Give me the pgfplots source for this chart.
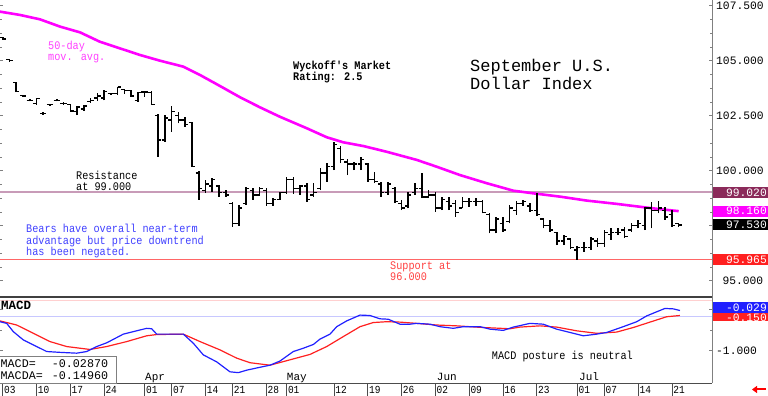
\documentclass[border=0pt]{standalone}
\usepackage{pgfplots}
\pgfplotsset{compat=1.18}
\usepackage{pgfplotstable}
\usepackage{fontspec}
\setmainfont{Liberation Mono}
\newfontfamily\mono{Liberation Mono}
\newfontfamily\monon[FakeStretch=0.88]{Liberation Mono}
\usetikzlibrary{arrows.meta}
\definecolor{macol}{HTML}{FF00FF}
\definecolor{matxt}{HTML}{FF40FF}
\definecolor{rescol}{HTML}{C89BB8}
\definecolor{resbox}{HTML}{8B2A5A}
\definecolor{supbox}{HTML}{FF2020}
\definecolor{mblue}{HTML}{2020FF}
\definecolor{mred}{HTML}{FF2020}
\definecolor{txtblue}{HTML}{4040FF}
\definecolor{suptxt}{HTML}{FF4040}
\definecolor{lblue}{HTML}{C8C8FF}
\definecolor{lpink}{HTML}{FFD0D0}
\newcommand\lines[1]{\begin{tabular}[t]{@{}l@{}}#1\end{tabular}}
\pgfdeclareplotmark{otick}{\pgfpathmoveto{\pgfqpoint{-3.2pt}{0pt}}\pgfpathlineto{\pgfqpoint{0pt}{0pt}}\pgfusepathqstroke}
\pgfdeclareplotmark{ctick}{\pgfpathmoveto{\pgfqpoint{0pt}{0pt}}\pgfpathlineto{\pgfqpoint{3.2pt}{0pt}}\pgfusepathqstroke}
\pgfplotstableread{
i O H L C
0 106.05 106.10 105.95 105.99
1 105.05 105.10 104.95 105.00
2 104.00 104.03 103.57 103.60
3 103.42 103.45 103.35 103.40
4 103.20 103.25 103.15 103.20
5 103.05 103.30 103.00 103.28
6 102.60 102.65 102.55 102.60
7 103.00 103.05 102.95 103.00
8 103.20 103.25 103.15 103.20
9 103.06 103.10 103.00 103.06
10 103.00 103.03 102.70 102.72
11 102.70 102.94 102.53 102.90
12 102.80 102.98 102.73 102.95
13 103.15 103.29 103.09 103.20
14 103.30 103.53 103.18 103.40
15 103.30 103.67 103.20 103.60
16 103.50 103.55 103.45 103.50
17 103.50 103.82 103.44 103.80
18 103.70 103.71 103.49 103.65
19 103.65 103.67 103.36 103.40
20 103.20 103.59 103.14 103.55
21 103.58 103.60 103.35 103.58
22 103.55 103.60 102.99 103.00
23 102.50 102.58 100.64 101.40
24 101.40 102.53 101.32 102.40
25 102.30 102.94 101.77 102.70
26 102.50 102.68 102.15 102.30
27 102.30 102.45 102.00 102.10
28 102.20 102.23 100.18 100.20
29 99.90 100.00 98.67 99.20
30 99.10 99.58 98.99 99.40
31 99.30 99.67 99.05 99.60
32 99.30 99.35 98.82 99.00
33 99.00 99.12 98.82 98.90
34 98.50 98.59 97.45 97.60
35 97.60 98.44 97.49 98.30
36 98.50 99.27 98.44 99.20
37 99.10 99.20 98.67 98.90
38 98.90 99.27 98.85 99.20
39 99.10 99.20 98.40 98.50
40 98.50 98.76 98.40 98.70
41 98.70 99.05 98.67 99.00
42 99.00 99.73 98.94 99.60
43 99.60 99.70 98.94 99.20
44 99.20 99.35 98.90 99.30
45 99.30 99.45 98.59 98.70
46 98.90 99.44 98.82 99.00
47 99.20 100.10 99.12 99.90
48 99.90 100.34 99.50 100.20
49 100.20 101.32 100.03 101.20
50 101.00 101.10 100.34 100.50
51 100.40 100.52 99.80 100.30
52 100.30 100.41 100.03 100.30
53 100.30 100.64 100.03 100.50
54 100.30 100.34 99.50 99.60
55 99.60 99.95 99.43 99.50
56 99.40 99.50 98.82 99.00
57 99.00 99.50 98.90 99.40
58 99.20 99.27 98.52 98.60
59 98.50 98.67 98.21 98.30
60 98.40 99.05 98.29 98.90
61 99.00 99.45 98.90 99.20
62 99.20 99.88 98.75 98.80
63 98.80 99.12 98.75 98.90
64 98.90 99.05 98.14 98.30
65 98.30 98.82 98.21 98.70
66 98.60 98.82 98.21 98.40
67 98.50 98.67 97.91 98.10
68 98.30 98.82 98.29 98.60
69 98.60 98.76 98.36 98.60
70 98.60 98.75 98.40 98.60
71 98.60 98.67 98.06 98.10
72 98.00 98.06 97.15 97.30
73 97.30 97.91 97.15 97.80
74 97.60 97.91 97.23 97.30
75 97.70 98.44 97.60 98.30
76 98.20 98.64 97.99 98.50
77 98.50 98.67 98.40 98.60
78 98.40 98.52 98.14 98.20
79 98.20 99.00 97.94 98.00
80 97.80 97.84 97.38 97.50
81 97.50 97.76 97.23 97.30
82 97.20 97.23 96.62 96.80
83 96.80 97.08 96.62 97.00
84 96.90 96.93 96.43 96.50
85 96.40 96.58 95.94 96.50
86 96.50 96.77 96.32 96.50
87 96.50 97.00 96.40 96.90
88 96.80 96.93 96.55 96.70
89 96.70 97.30 96.55 97.20
90 97.10 97.38 96.85 97.20
91 97.20 97.38 97.08 97.20
92 97.30 97.45 96.93 97.00
93 97.30 97.60 97.23 97.50
94 97.50 97.76 97.38 97.60
95 97.50 98.36 97.30 98.30
96 98.30 98.59 97.38 98.20
97 98.20 98.64 98.06 98.30
98 98.20 98.34 97.76 97.90
99 98.00 98.21 97.45 97.50
100 97.60 97.64 97.45 97.53
}\bars
\begin{document}
\begin{tikzpicture}
% ---------------- main price panel ----------------
\begin{axis}[at={(0pt,99.3pt)}, anchor=south west, width=712pt, height=296.7pt, scale only axis,
  xmin=-0.4, xmax=104.93, ymin=94.27, ymax=107.76, xtick=\empty,
  ytick={95,97.5,100,102.5,105,107.5}, yticklabels={95.000,,100.000,102.500,105.000,107.500},
  minor y tick num=3, ytick pos=both, yticklabel pos=right,
  axis line style={draw=none}, tick style={draw=gray, line width=0.6pt},
  major tick length=3pt, minor tick length=2pt,
  yticklabel style={font=\fontsize{11.3}{12}\selectfont, anchor=west, text width=47pt, align=right, inner sep=0pt, xshift=4pt},
  clip=false]
\addplot[red!60!white, line width=1.3pt, mark=none] coordinates {(-0.4,95.965) (104.93,95.965)};
\addplot[draw=rescol, line width=1.5pt, mark=none] coordinates {(-0.4,99.02) (104.93,99.02)};
\addplot[draw=macol, line width=2.6pt, line join=round, mark=none] coordinates {
(-0.4,107.23) (2.56,107.08) (5.52,106.88) (8.48,106.55) (11.43,106.29) (14.39,105.86)
(17.35,105.56) (20.31,105.26) (23.27,105.00) (26.72,104.73) (29.19,104.35) (32.14,103.85)
(35.1,103.34) (38.06,102.88) (41.02,102.45) (44.97,101.93) (47.93,101.52) (50.38,101.29)
(53.35,101.12) (56.8,100.86) (61.24,100.49) (64.2,100.18) (67.65,99.80) (71.6,99.43)
(75.53,99.09) (78.49,98.97) (82.44,98.82) (86.39,98.64) (90.83,98.49) (94.76,98.34)
(97.23,98.25) (100,98.16)};
\addplot[draw=none, error bars/.cd, y dir=plus, y explicit, error mark=none,
  error bar style={draw=black, line width=1.6pt, solid}]
  table[x=i, y=L, y error expr=\thisrow{H}-\thisrow{L}] {\bars};
\addplot[only marks, mark=otick, mark options={draw=black, line width=1.5pt, solid}] table[x=i, y=O] {\bars};
\addplot[only marks, mark=ctick, mark options={draw=black, line width=1.5pt, solid}] table[x=i, y=C] {\bars};
\end{axis}
% ---------------- MACD panel ----------------
\begin{axis}[at={(0pt,13pt)}, anchor=south west, width=712pt, height=86.3pt, scale only axis,
  xmin=-0.4, xmax=104.93, ymin=-1.78, ymax=0.304, xtick=\empty,
  ytick={0,-1}, yticklabels={,-1.000}, minor y tick num=1, ytick pos=both, yticklabel pos=right,
  axis line style={draw=none}, tick style={draw=gray, line width=0.6pt},
  major tick length=3pt, minor tick length=2pt,
  yticklabel style={font=\fontsize{11.3}{12}\selectfont, anchor=west, inner sep=0pt, xshift=4pt},
  clip=false]
\addplot[draw=lpink, line width=1pt, mark=none] coordinates {(-0.4,0.22) (104.93,0.22)};
\addplot[draw=lblue, line width=1pt, mark=none] coordinates {(-0.4,-0.18) (104.93,-0.18)};
\addplot[draw=mred, line width=1.2pt, line join=round, mark=none] coordinates {
(-0.4,-0.28) (2.07,-0.38) (4.53,-0.58) (7.0,-0.78) (9.47,-0.90) (12.91,-0.97) (15.38,-0.90)
(18.34,-0.78) (21.3,-0.64) (22.78,-0.61) (26.72,-0.60) (29.19,-0.78) (32.14,-0.98) (34.62,-1.18)
(36.58,-1.29) (38.06,-1.32) (39.54,-1.35) (42.5,-1.22) (45.46,-1.09) (47.93,-0.90) (50.38,-0.66)
(52.86,-0.42) (54.82,-0.32) (56.8,-0.30) (58.77,-0.31) (61.24,-0.34) (64.2,-0.38) (67.16,-0.40)
(71.09,-0.44) (75.04,-0.47) (76.52,-0.43) (79.49,-0.40) (81.95,-0.43) (84.91,-0.52) (87.87,-0.58)
(90.83,-0.55) (93.29,-0.44) (95.75,-0.31) (98.22,-0.18) (100.19,-0.15)};
\addplot[draw=mblue, line width=1.2pt, line join=round, mark=none] coordinates {
(-0.4,-0.30) (0.59,-0.34) (1.57,-0.54) (3.05,-0.74) (4.53,-0.86) (6.51,-1.02) (8.48,-1.04)
(10.95,-1.06) (12.43,-1.02) (13.9,-0.90) (15.38,-0.81) (17.84,-0.60) (19.32,-0.54) (21.3,-0.46)
(22.04,-0.47) (22.78,-0.60) (24.26,-0.60) (26.72,-0.60) (28.2,-0.82) (29.67,-1.10) (31.66,-1.27)
(33.62,-1.51) (34.85,-1.53) (36.1,-1.47) (38.06,-1.40) (39.54,-1.35) (41.02,-1.25) (42.99,-1.02)
(44.47,-0.94) (45.95,-0.85) (46.94,-0.72) (48.42,-0.60) (49.41,-0.42) (50.89,-0.28) (52.86,-0.14)
(54.33,-0.15) (55.81,-0.23) (57.04,-0.24) (58.77,-0.36) (60.25,-0.36) (61.24,-0.34) (63.21,-0.36)
(64.69,-0.42) (66.66,-0.46) (68.14,-0.42) (70.61,-0.42) (72.09,-0.48) (74.05,-0.51) (75.53,-0.43)
(78.0,-0.34) (79.97,-0.36) (81.95,-0.48) (83.92,-0.56) (85.89,-0.64) (87.87,-0.60) (89.35,-0.56)
(91.8,-0.42) (93.79,-0.30) (95.27,-0.16) (96.75,-0.06) (97.97,0.02) (99.2,0.01) (100.19,-0.03)};
\end{axis}
% ---------------- frame lines ----------------
\draw[black!75, line width=2pt] (0pt,99.3pt) -- (713pt,99.3pt);
\draw[gray, line width=0.8pt] (712pt,13pt) -- (712pt,396pt);
\draw[black!70, line width=0.8pt] (0pt,13pt) -- (712pt,13pt);
\foreach \i/\t in {0/03,5/10,10/17,15/24,21/01,25/07,30/14,34/21,39/28,42/01,49/12,54/19,59/26,64/02,69/09,74/16,79/23,85/01,89/07,94/14,99/21} {
  \draw[black!70, line width=0.8pt] ({2.7pt+6.76pt*\i},0pt) -- ({2.7pt+6.76pt*\i},13pt);
  \node[anchor=base west, inner sep=0pt, font=\fontsize{10.8}{11}\monon] at ({2.7pt+6.76pt*\i+1.2pt},2.7pt) {\t};
}
\foreach \x/\m in {145/Apr,286.7/May,436.7/Jun,579/Jul}
  \node[anchor=base west, inner sep=0pt, font=\fontsize{11}{12}\mono] at (\x pt,15.3pt) {\m};
% ---------------- texts ----------------
\tikzset{txt/.style={anchor=base west, inner sep=0pt, font=\fontsize{11.6}{10.5}\monon}}
\node[txt, text=matxt] at (48pt,346pt) {\lines{50-day\\mov. avg.}};
\node[txt, font=\fontsize{11.6}{10}\monon\bfseries] at (293pt,326.7pt) {\lines{Wyckoff's Market\\Rating: 2.5}};
\node[anchor=base west, inner sep=0pt, font=\fontsize{17}{17.3}\mono] at (470pt,324.3pt) {\lines{September U.S.\\Dollar Index}};
\node[txt, font=\fontsize{11.6}{10}\monon] at (76pt,216.7pt) {\lines{Resistance\\at 99.000}};
\node[txt, text=txtblue, font=\fontsize{11.6}{10.3}\monon] at (26pt,163.3pt) {\lines{Bears have overall near-term\\advantage but price downtrend\\has been negated.}};
\node[txt, text=suptxt, font=\fontsize{11.6}{10}\monon] at (390pt,126.7pt) {\lines{Support at\\96.000}};
\node[txt] at (491.7pt,36.7pt) {MACD posture is neutral};
\node[anchor=base west, inner sep=0pt, font=\fontsize{12.5}{13}\mono\bfseries] at (1pt,86.7pt) {MACD};
\draw[gray, fill=white, line width=0.8pt] (-0.4pt,13pt) rectangle (116pt,39.3pt);
\node[anchor=base west, inner sep=0pt, font=\fontsize{11.7}{12}\mono] at (0.5pt,28.7pt) {\lines{MACD=\\MACDA=}};
\node[anchor=base west, inner sep=0pt, font=\fontsize{11.7}{12}\mono] at (51.7pt,28.7pt) {\lines{-0.02870\\-0.14960}};
% ---------------- value boxes ----------------
\tikzset{vbox/.style={anchor=east, text=white, text width=53pt, align=right, inner xsep=1pt, inner ysep=0pt, minimum height=11pt, font=\fontsize{11.3}{11}\mono}}
\node[vbox, fill=resbox] at (768pt,203.7pt) {99.020};
\node[vbox, fill=macol] at (768pt,184.8pt) {98.160};
\node[vbox, fill=black] at (768pt,171.3pt) {97.530};
\node[vbox, fill=supbox] at (768pt,136.5pt) {95.965};
\node[vbox, fill=mred, minimum height=9pt, text height=5pt, text depth=0pt] at (768pt,79.2pt) {\raisebox{-2.5pt}{-0.150}};
\node[vbox, fill=mblue] at (768pt,88.6pt) {-0.029};
\draw[red, line width=2pt, -{Triangle[length=5pt,width=7pt]}] (766pt,6.5pt) -- (752pt,6.5pt);
\pgfresetboundingbox
\path[use as bounding box] (0pt,0pt) rectangle (768pt,396pt);
\end{tikzpicture}
\end{document}
